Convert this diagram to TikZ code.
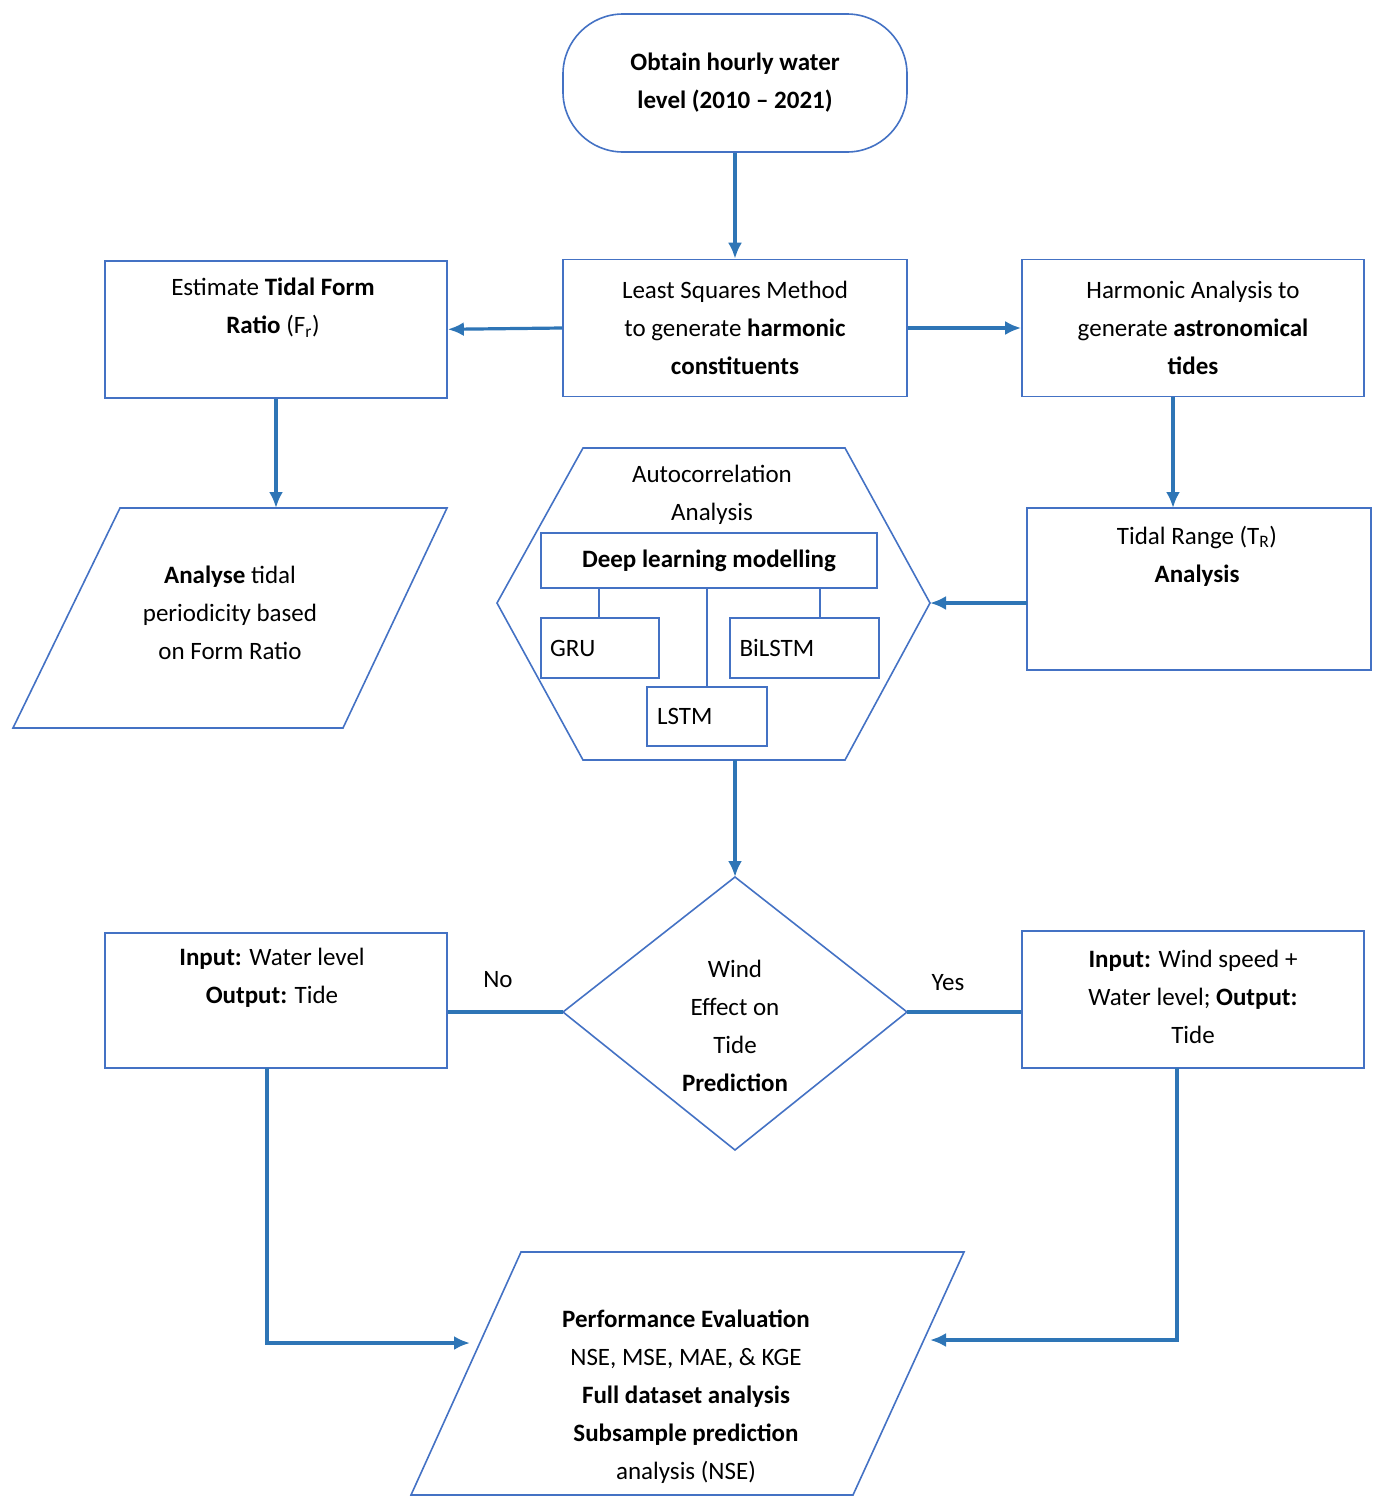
\documentclass[tikz,border=0pt]{standalone}
\usepackage{fontspec}
\setmainfont{Carlito}
\usetikzlibrary{arrows.meta}
\definecolor{bord}{HTML}{4472C4}
\definecolor{arr}{HTML}{2E75B6}
\begin{document}
\begin{tikzpicture}[x=1pt,y=-1pt,
  box/.style={draw=bord,line width=1.6pt,align=center,font=\fontsize{25}{38}\selectfont,inner sep=0pt},
  txt/.style={align=center,font=\fontsize{25}{38}\selectfont},
  shp/.style={draw=bord,line width=1.6pt},
  con/.style={draw=arr,line width=3.2pt,-{Latex[length=16pt,width=14pt]}},
  lin/.style={draw=arr,line width=3.2pt}]
\useasboundingbox (0,0) rectangle (1384,1508);
% nodes
\node[box,rounded corners=60pt,minimum width=344pt,minimum height=138pt] (start) at (735,83) {\textbf{Obtain hourly water}\\\textbf{level (2010 -- 2021)}};
\node[box,minimum width=344pt,minimum height=137pt] (ls) at (735,328) {Least Squares Method\\to generate \textbf{harmonic}\\\textbf{constituents}};
\node[box,minimum width=342pt,minimum height=137pt,anchor=north] (est) at (276,260) {};
\node[txt] at (273,308) {Estimate \textbf{Tidal Form}\\\textbf{Ratio} (F\textsubscript{r})};
\node[box,minimum width=342pt,minimum height=137pt] (harm) at (1193,328) {Harmonic Analysis to\\generate \textbf{astronomical}\\\textbf{tides}};
\node[box,minimum width=344pt,minimum height=162pt] (tr) at (1199,589) {};
\node[txt] at (1197,556) {Tidal Range (T\textsubscript{R})\\\textbf{Analysis}};
% left parallelogram
\coordinate (pl) at (276,508);
\draw[shp] (13,728) -- (120,508) -- (447,508) -- (343,728) -- cycle;
\node[txt] (pltxt) at (230,613) {\textbf{Analyse} tidal\\periodicity based\\on Form Ratio};
% hexagon
\coordinate (hexR) at (930,603);
\coordinate (hexB) at (735,760);
\draw[shp] (497,603) -- (583,448) -- (845,448) -- (930,603) -- (845,760) -- (583,760) -- cycle;
\node[txt] (auto) at (712,495) {Autocorrelation\\Analysis};
\node[box,minimum width=336pt,minimum height=55pt] (dl) at (709,560.5) {\textbf{Deep learning modelling}};
\node[box,minimum width=118pt,minimum height=60pt,text width=100pt,align=left] (gru) at (600,648) {GRU};
\node[box,minimum width=149pt,minimum height=60pt,text width=130pt,align=left] (bil) at (804.5,648) {BiLSTM};
\node[box,minimum width=120pt,minimum height=59pt,text width=100pt,align=left] (lstm) at (707,716.5) {LSTM};
\draw[shp] (599,588) -- (599,618);
\draw[shp] (820,588) -- (820,618);
\draw[shp] (707,588) -- (lstm.north);
% diamond
\coordinate (dT) at (735,877);
\coordinate (dL) at (563,1012);
\coordinate (dR) at (907,1012);
\draw[shp] (735,877) -- (907,1012) -- (735,1150) -- (563,1012) -- cycle;
\node[txt] (dtxt) at (735,1026) {Wind\\Effect on\\Tide\\\textbf{Prediction}};
\node[box,minimum width=342pt,minimum height=135pt] (inL) at (276,1000.5) {};
\node[txt] at (272,978) {\textbf{Input:} Water level\\\textbf{Output:} Tide};
\node[box,minimum width=342pt,minimum height=137pt] (inR) at (1193,999.5) {};
\node[txt] at (1193,997) {\textbf{Input:} Wind speed +\\Water level; \textbf{Output:}\\Tide};
% bottom parallelogram
\coordinate (bL) at (470,1343);
\coordinate (bR) at (930,1340);
\draw[shp] (411,1495) -- (521,1252) -- (964,1252) -- (853,1495) -- cycle;
\node[txt] (btxt) at (686,1397) {\textbf{Performance Evaluation}\\NSE, MSE, MAE, \& KGE\\\textbf{Full dataset analysis}\\\textbf{Subsample prediction}\\analysis (NSE)};
% connectors
\draw[con] (start.south) -- (ls.north);
\draw[con] (ls.west) -- (est.east);
\draw[con] (ls.east) -- (harm.east -| harm.west);
\draw[con] (est.south) -- (pl);
\draw[con] (harm.south -| 1173,0) -- (1173,508);
\draw[con] (1027,603) -- (hexR);
\draw[con] (hexB) -- (dT);
\draw[lin] (dL) -- (inL.east |- dL);
\draw[lin] (dR) -- (inR.west |- dR);
\node[txt] at (498,980) {No};
\node[txt] at (948,983) {Yes};
\draw[con] (267,1068) |- (bL);
\draw[con] (1177,1068) |- (bR);
\end{tikzpicture}
\end{document}
